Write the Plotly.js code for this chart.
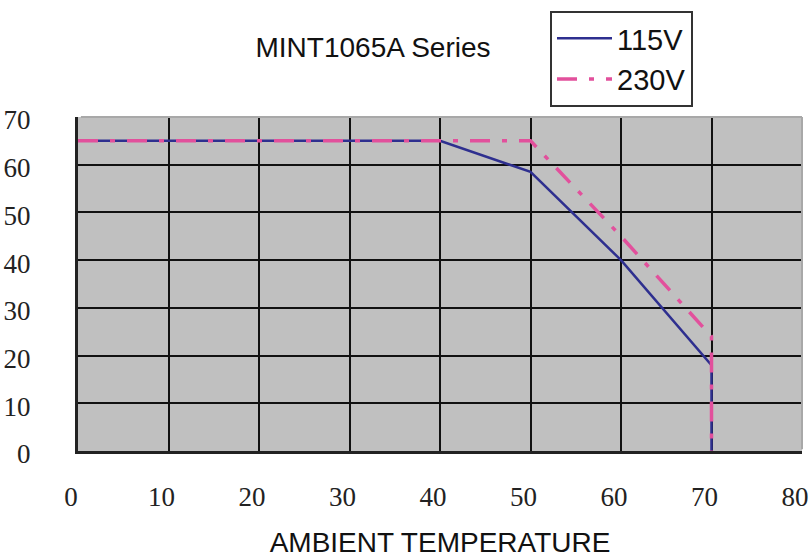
<!DOCTYPE html>
<html>
<head>
<meta charset="utf-8">
<script src="https://cdn.plot.ly/plotly-3.0.1.min.js"></script>
<style>html,body{margin:0;padding:0;background:#fff;}#chart{width:811px;height:558px;}</style>
</head>
<body>
<div id="chart"></div>
<script>
const temp115 = [0, 40, 50, 60, 70, 70];
const power115 = [65, 65, 58.5, 40, 18, 0];
const temp230 = [0, 50, 60, 69.5, 70, 70];
const power230 = [65, 65, 45, 25, 24, 0];
const xTicks = [0, 10, 20, 30, 40, 50, 60, 70, 80];
const yTicks = [0, 10, 20, 30, 40, 50, 60, 70];

const traces = [
  {x: temp115, y: power115, mode: 'lines', name: '115V', legendgroup: 'a',
   line: {color: '#2e2f8f', width: 2.5}},
  {x: temp230, y: power230, mode: 'lines', name: '230V', legendgroup: 'b',
   line: {color: '#e2509c', width: 3.5, dash: '20px,12px,5px,12px'}}
];

const tickFont = {family: '"Liberation Serif", "Times New Roman", serif', size: 27, color: '#222'};
const sansFont = '"Liberation Sans", Arial, sans-serif';

const layout = {
  width: 811, height: 558,
  margin: {l: 78, r: 9, t: 117, b: 107},
  paper_bgcolor: '#ffffff',
  plot_bgcolor: '#c0c0c0',
  showlegend: true,
  title: {text: 'MINT1065A Series', x: 373/811, xref: 'container', xanchor: 'center',
          y: 1 - 47/558, yref: 'container', yanchor: 'middle',
          font: {family: sansFont, size: 28, color: '#111'}},
  xaxis: {range: [0, 80], tickvals: xTicks, ticktext: xTicks.map(String),
          showgrid: true, gridcolor: '#111', gridwidth: 2, zeroline: false,
          showline: true, linecolor: '#222', linewidth: 3, ticks: '',
          ticklabelstandoff: 20, ticklabelshift: -7, ticklabeloverflow: 'allow', tickfont: tickFont,
          title: {text: 'AMBIENT TEMPERATURE', standoff: 30,
                  font: {family: sansFont, size: 28, color: '#111'}}},
  yaxis: {range: [0, 70], tickvals: yTicks, ticktext: yTicks.map(String),
          showgrid: true, gridcolor: '#111', gridwidth: 2, zeroline: false,
          showline: true, linecolor: '#222', linewidth: 3, ticks: '',
          ticklabelstandoff: 39, ticklabelshift: 3, tickfont: tickFont},
  shapes: [
    {type: 'line', xref: 'paper', yref: 'paper', x0: 0.004, x1: 1, y0: 1, y1: 1, layer: 'above',
     line: {color: '#a8a8a8', width: 2}},
    {type: 'line', xref: 'paper', yref: 'paper', x0: 1, x1: 1, y0: 0.005, y1: 1, layer: 'above',
     line: {color: '#a8a8a8', width: 2}}
  ],
  legend: {x: (550-78)/724, y: (451-11)/334, xanchor: 'left', yanchor: 'top',
           bgcolor: '#ffffff', bordercolor: '#333', borderwidth: 2,
           traceorder: 'grouped', tracegroupgap: 0, itemwidth: 55,
           font: {family: sansFont, size: 29, color: '#111'}}
};

Plotly.newPlot('chart', traces, layout, {displayModeBar: false, staticPlot: true});
</script>
</body>
</html>
